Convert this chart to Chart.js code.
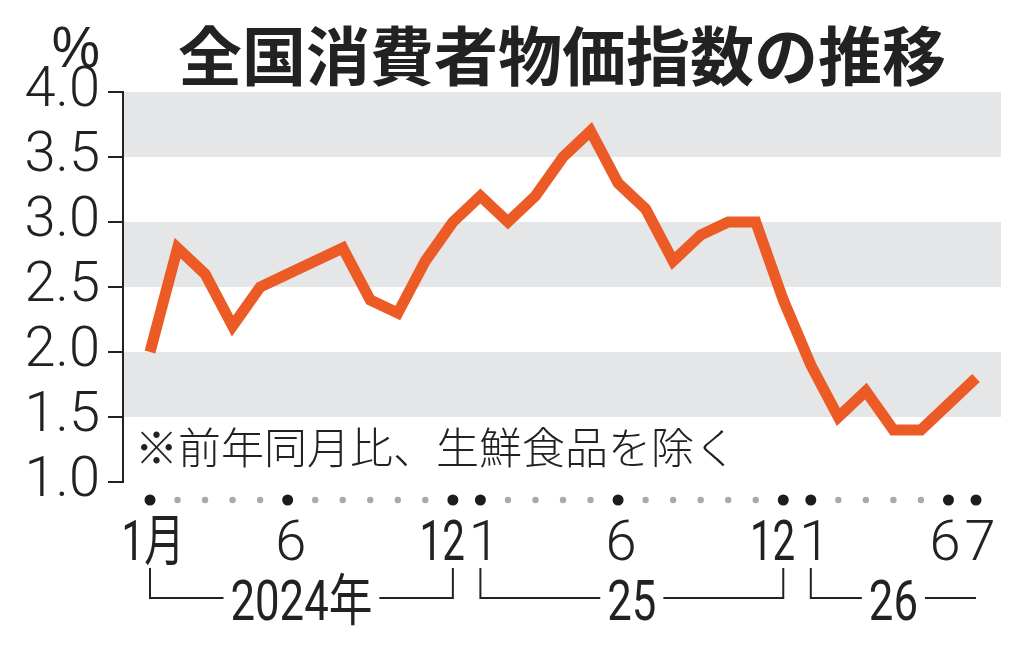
<!DOCTYPE html>
<html>
<head>
<meta charset="utf-8">
<script src="https://cdn.jsdelivr.net/npm/chart.js@4/dist/chart.umd.min.js"></script>
<style>
  html, body { margin: 0; padding: 0; background: #fff; }
  #wrap { width: 1024px; height: 647px; }
</style>
</head>
<body>
<div id="wrap"><canvas id="c" width="1024" height="647"></canvas></div>
<script>
// ---- data ----
const titleText = '全国消費者物価指数の推移';
const unitText = '%';
const noteText = '※前年同月比、生鮮食品を除く';
const monthLabels = ['1月','','','','','6','','','','','','12',
                     '1','','','','','6','','','','','','12',
                     '1','','','','','6','7'];
const cpiValues = [2.0, 2.8, 2.6, 2.2, 2.5, 2.6, 2.7, 2.8, 2.4, 2.3, 2.7, 3.0,
                   3.2, 3.0, 3.2, 3.5, 3.7, 3.3, 3.1, 2.7, 2.9, 3.0, 3.0, 2.4,
                   1.9, 1.5, 1.7, 1.4, 1.4, 1.6, 1.8];
const yearLabels = ['2024年', '25', '26'];
const yearFirstIndex = [0, 12, 24];
const yearLastIndex = [11, 23, 30];
const yMin = 1.0, yMax = 4.0, yStep = 0.5;
const shadedBands = [[3.5, 4.0], [2.5, 3.0], [1.5, 2.0]];

// ---- style ----
const INK = '#222222';
const LINE = '#EC5A25';
const BAND = '#E5E6E7';
const NUMFONT = 'Roboto, "Noto Sans CJK JP", sans-serif';
const CJKFONT = '"Noto Sans CJK JP", sans-serif';

function drawText(ctx, s, x, y, font, align, baseline, sx) {
  ctx.save();
  ctx.font = font;
  ctx.textAlign = align;
  ctx.textBaseline = baseline;
  ctx.fillStyle = INK;
  ctx.translate(x, y);
  ctx.scale(sx, 1);
  ctx.fillText(s, 0, 0);
  ctx.restore();
}
function textWidth(ctx, s, font, sx) {
  ctx.save(); ctx.font = font;
  const w = ctx.measureText(s).width * sx;
  ctx.restore();
  return w;
}

const bandsPlugin = {
  id: 'bands',
  beforeDraw(chart) {
    const { ctx, chartArea } = chart;
    const y = chart.scales.y;
    ctx.save();
    ctx.fillStyle = '#ffffff';
    ctx.fillRect(0, 0, chart.width, chart.height);
    ctx.fillStyle = BAND;
    shadedBands.forEach(([lo, hi]) => {
      const yt = y.getPixelForValue(hi), yb = y.getPixelForValue(lo);
      ctx.fillRect(chartArea.left + 1, yt, chartArea.right - chartArea.left - 1, yb - yt);
    });
    ctx.restore();
  }
};

const decorPlugin = {
  id: 'decor',
  afterDraw(chart) {
    const { ctx, chartArea } = chart;
    const x = chart.scales.x;
    // title
    drawText(ctx, titleText, (chartArea.left + chartArea.right) / 2, 56,
             'bold 64px ' + CJKFONT, 'center', 'middle', 1);
    // unit
    drawText(ctx, unitText, 100, 67, '300 57px "Liberation Sans", Arial, sans-serif', 'right', 'alphabetic', 0.95);
    // note
    drawText(ctx, noteText, 135, 448, '300 43px ' + CJKFONT, 'left', 'middle', 1);

    // dots row
    const dotY = 500;
    monthLabels.forEach((lab, i) => {
      const px = x.getPixelForValue(i);
      ctx.save();
      ctx.beginPath();
      if (lab) { ctx.fillStyle = '#1c1c1c'; ctx.arc(px, dotY, 5.5, 0, Math.PI * 2); }
      else { ctx.fillStyle = '#a9a9a9'; ctx.arc(px, dotY, 3.2, 0, Math.PI * 2); }
      ctx.fill();
      ctx.restore();
    });

    // month labels
    const lf = '300 56px ' + NUMFONT;
    const lfc = '400 56px ' + NUMFONT;
    monthLabels.forEach((lab, i) => {
      if (!lab) return;
      const px = x.getPixelForValue(i);
      const hasRight = i + 1 < monthLabels.length && monthLabels[i + 1];
      const hasLeft = i > 0 && monthLabels[i - 1];
      if (hasRight) {
        const multi = lab.length > 1;
        drawText(ctx, lab, px + 12, 560, multi ? lfc : lf, 'right', 'alphabetic', multi ? 0.72 : 1);
      } else if (hasLeft) {
        drawText(ctx, lab, px + 4, 560, lf, 'center', 'alphabetic', 1);
      } else {
        const cjk = /[^\x00-\x7f]/.test(lab);
        drawText(ctx, lab, px + 3, 560, cjk ? lfc : lf, 'center', 'alphabetic', cjk ? 0.72 : 1);
      }
    });

    // year brackets
    const yf = '400 56px ' + NUMFONT;
    const ysx = 0.78;
    const topY = 568, lineY = 598, textY = 620;
    ctx.save();
    ctx.strokeStyle = INK;
    ctx.lineWidth = 2;
    yearLabels.forEach((lab, k) => {
      const x0 = x.getPixelForValue(yearFirstIndex[k]);
      const x1 = x.getPixelForValue(yearLastIndex[k]);
      const closed = monthLabels[yearLastIndex[k]] === '12';
      const cx = (x0 + x1) / 2;
      const w = textWidth(ctx, lab, yf, ysx);
      const gap = 7;
      ctx.beginPath();
      ctx.moveTo(x0, topY); ctx.lineTo(x0, lineY); ctx.lineTo(cx - w / 2 - gap, lineY);
      ctx.moveTo(cx + w / 2 + gap, lineY); ctx.lineTo(x1, lineY);
      if (closed) ctx.lineTo(x1, topY);
      ctx.stroke();
      drawText(ctx, lab, cx, textY, yf, 'center', 'alphabetic', ysx);
    });
    ctx.restore();
  }
};

const points = cpiValues.map((v, i) => ({ x: i, y: v }));
const pxLeft = 123, firstPx = 150, lastPx = 976, pxRight = 1001;
const step = (lastPx - firstPx) / (cpiValues.length - 1);

new Chart(document.getElementById('c'), {
  type: 'line',
  data: {
    datasets: [{
      data: points,
      borderColor: LINE,
      borderWidth: 11,
      borderJoinStyle: 'miter',
      borderCapStyle: 'butt',
      pointRadius: 0,
      tension: 0,
      fill: false
    }]
  },
  options: {
    responsive: false,
    animation: false,
    devicePixelRatio: 1,
    layout: { padding: { top: 92, bottom: 165, left: 0, right: 23 } },
    plugins: { legend: { display: false }, tooltip: { enabled: false }, title: { display: false } },
    scales: {
      x: {
        type: 'linear',
        display: false,
        min: -(firstPx - pxLeft) / step,
        max: (cpiValues.length - 1) + (pxRight - lastPx) / step
      },
      y: {
        min: yMin, max: yMax,
        afterFit(scale) { scale.width = pxLeft; },
        ticks: {
          stepSize: yStep,
          autoSkip: false,
          callback: v => Number(v).toFixed(1),
          font: { family: NUMFONT, size: 56, weight: 300 },
          color: INK,
          padding: 8
        },
        grid: { drawOnChartArea: false, drawTicks: true, tickLength: 15, color: INK, lineWidth: 2 },
        border: { display: true, color: INK, width: 2 }
      }
    }
  },
  plugins: [bandsPlugin, decorPlugin]
});
</script>
</body>
</html>
